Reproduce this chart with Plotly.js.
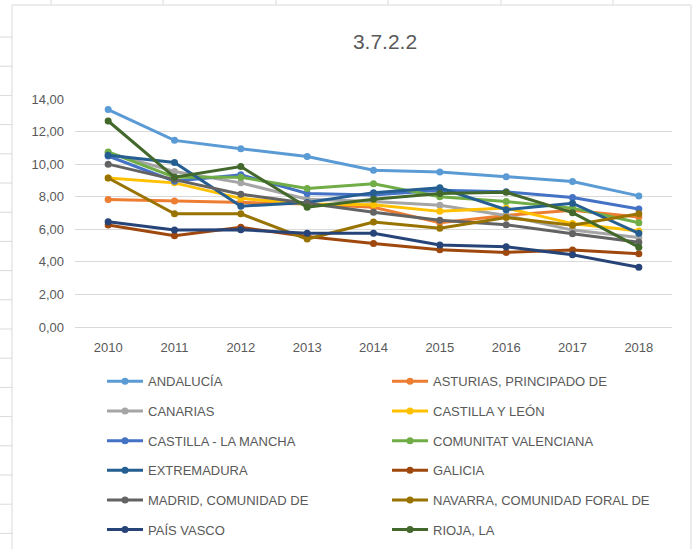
<!DOCTYPE html>
<html>
<head>
<meta charset="utf-8">
<script src="https://cdn.plot.ly/plotly-3.0.1.min.js"></script>
<style>html,body{margin:0;padding:0;background:#fff;}#chart{width:692px;height:549px;}</style>
</head>
<body>
<div id="chart"></div>
<script>
const years = ['2010','2011','2012','2013','2014','2015','2016','2017','2018'];

const andalucia   = [13.35, 11.46, 10.95, 10.47, 9.62, 9.52, 9.23, 8.93, 8.05];
const asturias    = [7.83, 7.74, 7.65, 7.55, 7.35, 6.40, 6.85, 7.17, 6.75];
const canarias    = [10.70, 9.55, 8.85, 7.85, 7.70, 7.48, 6.85, 5.95, 5.50];
const castillaLeon= [9.15, 8.85, 7.90, 7.55, 7.50, 7.10, 7.30, 6.35, 5.90];
const castillaLM  = [10.50, 8.95, 9.35, 8.20, 8.10, 8.40, 8.30, 7.95, 7.25];
const valenciana  = [10.75, 9.20, 9.20, 8.50, 8.80, 8.00, 7.70, 7.30, 6.40];
const extremadura = [10.55, 10.10, 7.42, 7.65, 8.25, 8.55, 7.20, 7.60, 5.75];
const galicia     = [6.26, 5.60, 6.12, 5.55, 5.13, 4.75, 4.58, 4.73, 4.50];
const madrid      = [10.00, 9.05, 8.15, 7.60, 7.05, 6.55, 6.28, 5.72, 5.20];
const navarra     = [9.15, 6.95, 6.95, 5.40, 6.45, 6.07, 6.72, 6.25, 6.95];
const paisVasco   = [6.46, 5.95, 5.97, 5.75, 5.75, 5.03, 4.93, 4.43, 3.67];
const rioja       = [12.65, 9.20, 9.85, 7.35, 7.85, 8.20, 8.27, 7.02, 4.90];

const seriesNames = ['ANDALUCÍA','ASTURIAS, PRINCIPADO DE','CANARIAS','CASTILLA Y LEÓN',
  'CASTILLA - LA MANCHA','COMUNITAT VALENCIANA','EXTREMADURA','GALICIA',
  'MADRID, COMUNIDAD DE','NAVARRA, COMUNIDAD FORAL DE','PAÍS VASCO','RIOJA, LA'];
const seriesValues = [andalucia, asturias, canarias, castillaLeon, castillaLM, valenciana,
  extremadura, galicia, madrid, navarra, paisVasco, rioja];
const seriesColors = ['#5B9BD5','#ED7D31','#A5A5A5','#FFC000','#4472C4','#70AD47',
  '#255E91','#9E480E','#636363','#997300','#264478','#43682B'];

const FONT = 'Liberation Sans, Arial, sans-serif';
const TXT = '#595959';

const traces = seriesNames.map((n, i) => ({
  type: 'scatter',
  mode: 'lines+markers',
  x: years,
  y: seriesValues[i],
  name: '<span style="font-size:13px;baseline-shift:3px">' + n + '</span>',
  legend: (i % 2 === 0) ? 'legend' : 'legend2',
  line: {color: seriesColors[i], width: 3},
  marker: {color: seriesColors[i], size: 7, symbol: 'circle'},
  hoverinfo: 'x+y+name'
}));

// pixel -> paper helpers (plot area: x 75..672, y 99..327)
const L = 75, R = 20, T = 99, B = 222, W = 692, H = 549;
const PW = W - L - R, PH = H - T - B;
const px = X => (X - L) / PW;
const py = Y => (H - B - Y) / PH;

// spreadsheet background decoration
const shapes = [];
const sheetLine = '#dadada';
shapes.push({type:'rect', xref:'paper', yref:'paper', x0:px(12), x1:px(691), y0:py(5), y1:py(560),
  line:{color:'#d9d9d9', width:1}, fillcolor:'rgba(0,0,0,0)', layer:'below'});
[51,163,276,388,501,613].forEach(X => shapes.push({type:'line', xref:'paper', yref:'paper',
  x0:px(X), x1:px(X), y0:py(0), y1:py(5), line:{color:sheetLine, width:1}}));
for (let Y = 37; Y < 549; Y += 29.2) shapes.push({type:'line', xref:'paper', yref:'paper',
  x0:px(0), x1:px(12), y0:py(Y), y1:py(Y), line:{color:sheetLine, width:1}});

const legendCommon = {
  orientation: 'v', yanchor: 'top', xanchor: 'left',
  bgcolor: 'rgba(0,0,0,0)', borderwidth: 0,
  font: {family: FONT, size: 20.5, color: TXT},
  itemwidth: 36, tracegroupgap: 0,
  itemclick: false, itemdoubleclick: false
};

const layout = {
  width: W, height: H,
  margin: {l: L, r: R, t: T, b: B, autoexpand: false},
  paper_bgcolor: '#ffffff', plot_bgcolor: '#ffffff',
  separators: ',.',
  font: {family: FONT, size: 13, color: TXT},
  title: {text: '3.7.2.2', font: {family: FONT, size: 21, color: TXT},
    x: 385 / W, xanchor: 'center', xref: 'container', y: 1 - 42 / H, yanchor: 'middle', yref: 'container'},
  xaxis: {type: 'category', range: [-0.5, 8.5], showgrid: false, zeroline: false,
    showline: false, ticks: '', ticklabelstandoff: 11,
    tickfont: {family: FONT, size: 13, color: TXT}, fixedrange: true},
  yaxis: {range: [0, 14], dtick: 2, tick0: 0, tickformat: '.2f', showgrid: true,
    gridcolor: '#d9d9d9', gridwidth: 1, zeroline: true, zerolinecolor: '#d9d9d9', zerolinewidth: 1,
    showline: false, ticks: '', ticklabelstandoff: 10,
    tickfont: {family: FONT, size: 13, color: TXT}, fixedrange: true},
  legend: Object.assign({}, legendCommon, {x: px(102), y: py(361.5)}),
  legend2: Object.assign({}, legendCommon, {x: px(387), y: py(361.5)}),
  shapes: shapes,
  showlegend: true
};

Plotly.newPlot('chart', traces, layout, {displayModeBar: false, staticPlot: false});
</script>
</body>
</html>
